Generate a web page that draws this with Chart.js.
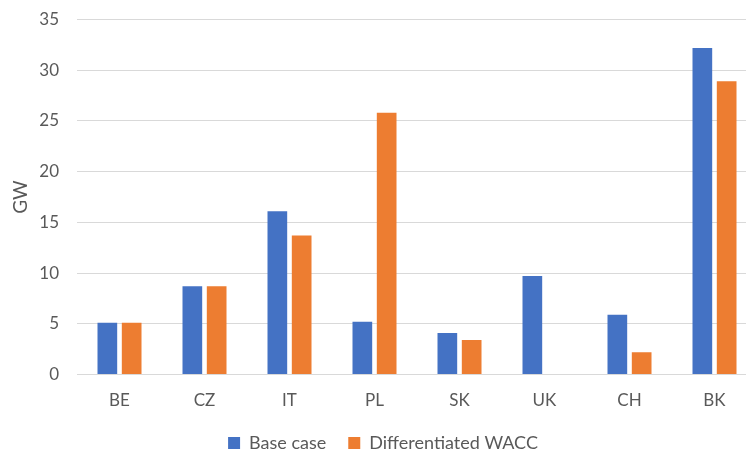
<!DOCTYPE html>
<html>
<head>
<meta charset="utf-8">
<script src="https://cdn.jsdelivr.net/npm/chart.js@4/dist/chart.umd.min.js"></script>
<style>
  html, body { margin: 0; padding: 0; background: #ffffff; overflow: hidden; }
  #wrap { width: 746px; height: 455px; position: relative; overflow: hidden; }
  #c { position: absolute; left: 0; top: 0; }
</style>
</head>
<body>
<div id="wrap"><canvas id="c" width="765" height="462"></canvas></div>
<script>
// Installed capacity per country, GW
const categories = ['BE', 'CZ', 'IT', 'PL', 'SK', 'UK', 'CH', 'BK'];
const baseCase = [5.1, 8.7, 16.1, 5.2, 4.1, 9.7, 5.9, 32.2];
const differentiatedWacc = [5.1, 8.7, 13.7, 25.8, 3.4, 0, 2.2, 28.9];
const seriesNames = ['Base case', 'Differentiated WACC'];
const yTicks = [0, 5, 10, 15, 20, 25, 30, 35];

const textColor = '#595959';
const gridColor = '#d9d9d9';
const fontFamily = 'Lato, "Open Sans", "Liberation Sans", sans-serif';

new Chart(document.getElementById('c'), {
  type: 'bar',
  data: {
    labels: categories,
    datasets: [
      {
        label: seriesNames[0],
        data: baseCase,
        backgroundColor: '#4472c4',
        categoryPercentage: 0.572,
        barPercentage: 0.81
      },
      {
        label: seriesNames[1],
        data: differentiatedWacc,
        backgroundColor: '#ed7d31',
        categoryPercentage: 0.572,
        barPercentage: 0.81
      }
    ]
  },
  options: {
    responsive: false,
    animation: false,
    devicePixelRatio: 1,
    layout: { padding: { top: 19.5, right: 8, left: 9, bottom: 0 } },
    plugins: {
      legend: {
        position: 'bottom',
        labels: {
          color: textColor,
          font: { family: fontFamily, size: 18 },
          boxWidth: 12,
          boxHeight: 12,
          padding: 22
        }
      },
      tooltip: { enabled: false }
    },
    scales: {
      x: {
        afterFit: (scale) => { scale.height = 37.5; },
        grid: { display: false, drawTicks: false },
        border: { display: true, color: gridColor, width: 1 },
        ticks: {
          color: textColor,
          font: { family: fontFamily, size: 17 },
          padding: 15.5
        }
      },
      y: {
        min: yTicks[0],
        max: yTicks[yTicks.length - 1],
        afterBuildTicks: (scale) => { scale.ticks = yTicks.map(v => ({ value: v })); },
        afterFit: (scale) => {
          scale.width = 68;
          scale.paddingTop = 0;
          scale.paddingBottom = 0;
        },
        grid: { color: gridColor, lineWidth: 1, drawTicks: false },
        border: { display: false },
        ticks: {
          color: textColor,
          font: { family: fontFamily, size: 17 },
          padding: 18
        },
        title: {
          display: true,
          text: 'GW',
          color: textColor,
          font: { family: fontFamily, size: 19 },
          padding: { top: 0, bottom: 4 }
        }
      }
    }
  }
});
</script>
</body>
</html>
